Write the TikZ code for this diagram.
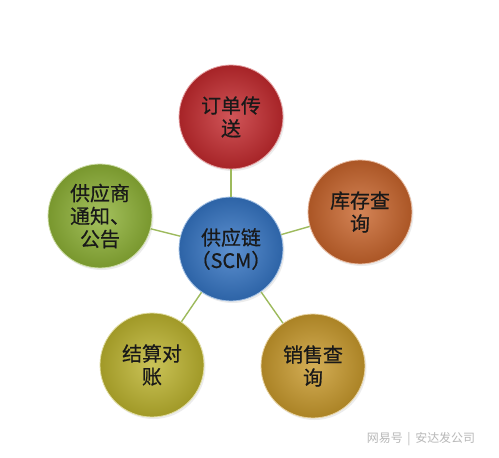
\documentclass[tikz,border=0pt]{standalone}
\usepackage{fontspec}
\newfontfamily\cjk[FakeBold=0.6]{Noto Sans CJK SC}
\newfontfamily\cjkmark{Noto Sans CJK SC}
\usetikzlibrary{shadows}
\definecolor{linkgreen}{HTML}{9DBA5C}
\definecolor{scmblue}{HTML}{3575C4}
\definecolor{orderred}{HTML}{C42A2E}
\definecolor{stockorange}{HTML}{C9652C}
\definecolor{salesgold}{HTML}{C99A2C}
\definecolor{billolive}{HTML}{BDB42E}
\definecolor{supgreen}{HTML}{8EB236}
\tikzset{
  bubble/.style={circle, minimum size=104bp, inner sep=0pt, align=center,
    font=\cjk\fontsize{20}{23}\selectfont, text=black!90,
    inner color=#1!80!white, outer color=#1!85!black,
    draw=#1!45!white, line width=0.8bp,
    drop shadow={shadow xshift=1.5bp, shadow yshift=-2bp, opacity=0.15}},
  link/.style={linkgreen, line width=1.4bp}
}
\begin{document}
\begin{tikzpicture}[x=1bp,y=-1bp]
    \useasboundingbox (0,0) rectangle (499,458);
    \fill[white] (0,0) rectangle (499,458);
    \node[bubble=scmblue] (scm) at (231,249) {供应链\\（SCM）};
    \node[bubble=orderred] (order) at (231,117) {订单传\\送};
    \node[bubble=stockorange] (stock) at (360,212) {库存查\\询};
    \node[bubble=salesgold] (sales) at (313,366) {销售查\\询};
    \node[bubble=billolive] (bill) at (152,365) {结算对\\账};
    \node[bubble=supgreen] (supplier) at (100,216) {供应商\\通知、\\公告};
    \foreach \n in {order,stock,sales,bill,supplier}
      \draw[link] (scm) -- (\n);
    \node[text=black!28, font=\cjkmark\fontsize{12}{14}\selectfont] (mark) at (421,439) {网易号 \,|\, 安达发公司};
\end{tikzpicture}
\end{document}
